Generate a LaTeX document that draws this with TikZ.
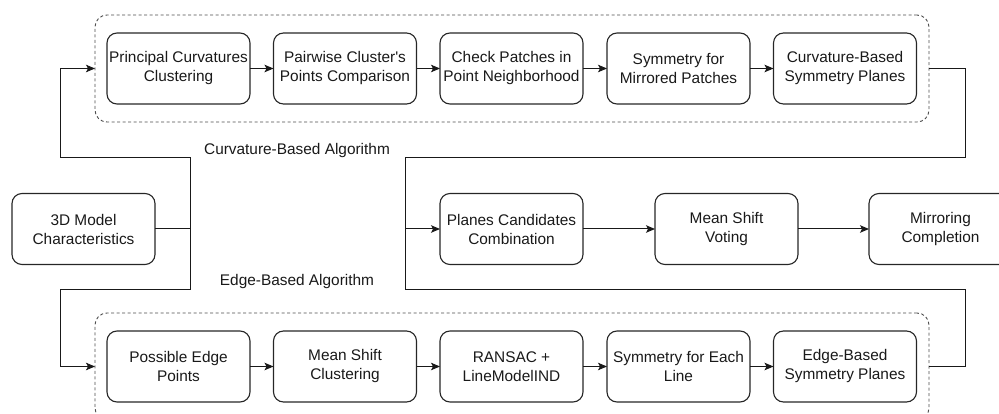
\documentclass[tikz,border=0pt]{standalone}
\usepackage{fontspec}
\setmainfont{Liberation Sans}
\usetikzlibrary{arrows.meta}
\begin{document}
\begin{tikzpicture}[x=1pt,y=-1pt,
  stepbox/.style={draw=black!85, line width=1.1pt, rounded corners=10pt,
    minimum width=143pt, minimum height=71pt, align=center, inner sep=0pt,
    outer sep=0pt, text=black!90, font=\fontsize{15.4}{19}\selectfont},
  groupbox/.style={draw=black!70, line width=0.9pt, dash pattern=on 3pt off 2.5pt,
    rounded corners=12pt, minimum width=834pt, minimum height=107pt,
    inner sep=0pt, outer sep=0pt},
  conn/.style={draw=black!90, line width=1pt},
  flow/.style={conn, -{Stealth[length=9pt,width=7.5pt,inset=2pt]}},
  grouplabel/.style={text=black!90, font=\fontsize{15.4}{19}\selectfont, inner sep=0pt}
]
\useasboundingbox (0,0) rectangle (999,414);
\clip (0,0) rectangle (999,414);

% group frames
\node[groupbox] (top) at (512,68.5) {};
\node[groupbox] (bot) at (512,366.5) {};

% curvature-based steps
\node[stepbox] (c1) at (178.5,68.5) {Principal Curvatures\\Clustering};
\node[stepbox] (c2) at (345,68.5) {Pairwise Cluster\textquotesingle s\\Points Comparison};
\node[stepbox] (c3) at (511.5,68.5) {Check Patches in\\Point Neighborhood};
\node[stepbox] (c4) at (678.5,68.5) {Symmetry for\\Mirrored Patches};
\node[stepbox] (c5) at (845,68.5) {Curvature-Based\\Symmetry Planes};

% input
\node[stepbox] (m0) at (83.5,229) {3D Model\\Characteristics};

% merging steps
\node[stepbox] (p1) at (511.5,229) {Planes Candidates\\Combination};
\node[stepbox] (p2) at (726.5,229) {Mean Shift\\Voting};
\node[stepbox] (p3) at (940.5,229) {Mirroring\\Completion};

% edge-based steps
\node[stepbox] (e1) at (178.5,366.5) {Possible Edge\\Points};
\node[stepbox] (e2) at (345,366.5) {Mean Shift\\Clustering};
\node[stepbox] (e3) at (511.5,366.5) {RANSAC +\\LineModelIND};
\node[stepbox] (e4) at (678.5,366.5) {Symmetry for Each\\Line};
\node[stepbox] (e5) at (845,366.5) {Edge-Based\\Symmetry Planes};

% group labels
\node[grouplabel] (lc) at (297,151) {Curvature-Based Algorithm};
\node[grouplabel] (le) at (297,282) {Edge-Based Algorithm};

% junctions and bends
\coordinate (jL) at (190,229);
\coordinate (lt) at (60,158);
\coordinate (lb) at (60,289);
\coordinate (jR) at (405,229);
\coordinate (rt) at (965,158);
\coordinate (rb) at (965,289);

% split from the model to both algorithms
\draw[conn] (m0.east) -- (jL);
\draw[flow] (jL) |- (lt) |- (top.west);
\draw[flow] (jL) |- (lb) |- (bot.west);

% chains inside the groups
\draw[flow] (c1) -- (c2);
\draw[flow] (c2) -- (c3);
\draw[flow] (c3) -- (c4);
\draw[flow] (c4) -- (c5);
\draw[flow] (e1) -- (e2);
\draw[flow] (e2) -- (e3);
\draw[flow] (e3) -- (e4);
\draw[flow] (e4) -- (e5);

% merge of both results
\draw[conn] (top.east) -| (rt) -| (jR);
\draw[conn] (bot.east) -| (rb) -| (jR);
\draw[flow] (jR) -- (p1.west);
\draw[flow] (p1) -- (p2);
\draw[flow] (p2) -- (p3);
\end{tikzpicture}
\end{document}
